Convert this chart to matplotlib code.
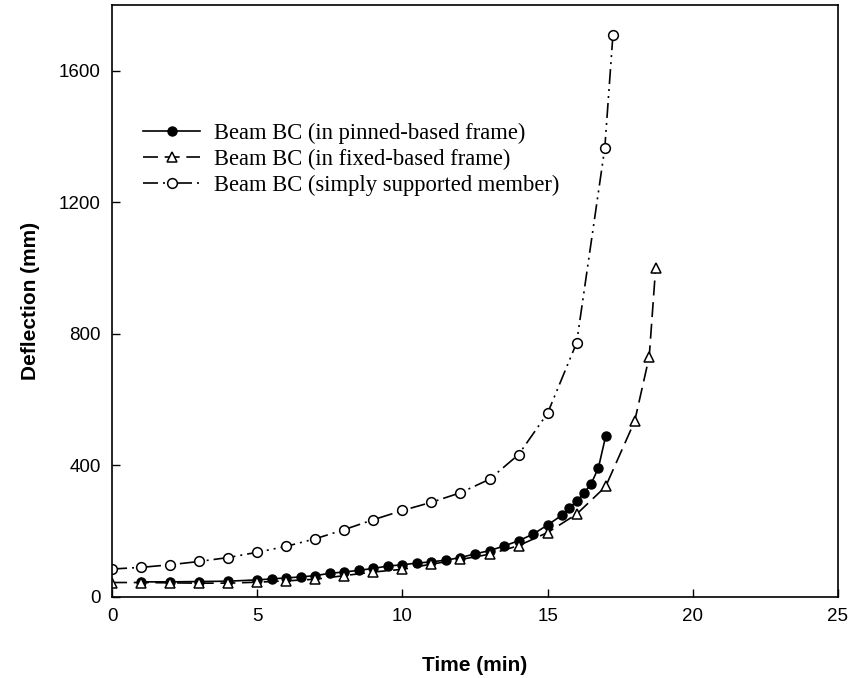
import matplotlib.pyplot as plt

# ==========================================
# Data
# ==========================================
pinned_t = [1, 2, 3, 4, 5, 5.5, 6, 6.5, 7, 7.5, 8, 8.5, 9, 9.5, 10, 10.5, 11, 11.5,
            12, 12.5, 13, 13.5, 14, 14.5, 15, 15.5, 15.75, 16, 16.25, 16.5, 16.75, 17]
pinned_d = [46, 46, 47, 48, 52, 55, 58, 61, 65, 72, 76, 81, 87, 94, 98, 103, 107, 112,
            120, 131, 141, 155, 171, 191, 219, 249, 271, 291, 316, 344, 393, 489]

fixed_t = [0, 1, 2, 3, 4, 5, 6, 7, 8, 9, 10, 11, 12, 13, 14, 15, 16, 17, 18, 18.5, 18.72]
fixed_d = [44, 44, 43, 42, 42, 45, 49, 54, 65, 76, 84, 100, 114, 130, 156, 196, 252, 336, 535, 731, 1000]

simple_t = [0, 1, 2, 3, 4, 5, 6, 7, 8, 9, 10, 11, 12, 13, 14, 15, 16, 16.97, 17.25]
simple_d = [85, 90, 98, 108, 120, 136, 154, 177, 205, 235, 263, 288, 317, 358, 433, 559, 773, 1366, 1709]

labels = ['Beam BC (in pinned-based frame)',
          'Beam BC (in fixed-based frame)',
          'Beam BC (simply supported member)']

x_ticks = [0, 5, 10, 15, 20, 25]
y_ticks = [0, 400, 800, 1200, 1600]

# ==========================================
# Plot
# ==========================================
fig = plt.figure(figsize=(8.49, 6.78), dpi=100)
ax = fig.add_axes([0.132, 0.1195, 0.855, 0.873])

ax.plot(pinned_t, pinned_d, color='black', lw=1.2, ls='-', marker='o', ms=6.5,
        mfc='black', mec='black', label=labels[0])
ax.plot(fixed_t, fixed_d, color='black', lw=1.2, ls=(0, (9, 4)), marker='^', ms=7,
        mfc='white', mec='black', mew=1.1, label=labels[1])
ax.plot(simple_t, simple_d, color='black', lw=1.2, ls=(0, (9, 3, 1.2, 3, 1.2, 3)), marker='o', ms=7,
        mfc='white', mec='black', mew=1.1, label=labels[2])

ax.set_xlim(0, 25)
ax.set_ylim(0, 1800)
ax.set_xticks(x_ticks)
ax.set_yticks(y_ticks)
ax.tick_params(direction='in', length=6, width=1, labelsize=13.5, top=False, right=False, pad=8)
for lbl in ax.get_xticklabels() + ax.get_yticklabels():
    lbl.set_family('Liberation Sans')
for s in ax.spines.values():
    s.set_linewidth(1.2)

ax.set_xlabel('Time (min)', fontsize=15, fontweight='bold', family='Liberation Sans', labelpad=22)
ax.set_ylabel('Deflection (mm)', fontsize=15, fontweight='bold', family='Liberation Sans', labelpad=14)

ax.legend(loc='upper left', bbox_to_anchor=(0.015, 0.835), frameon=False,
          prop={'family': 'Liberation Serif', 'size': 16.3}, handlelength=2.5,
          labelspacing=0.2, handletextpad=0.6)

fig.savefig('out.png', dpi=100)
